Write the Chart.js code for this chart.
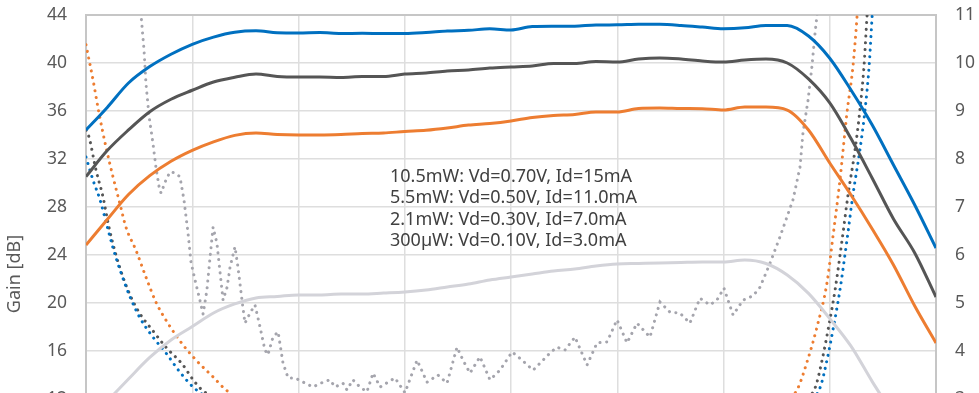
<!DOCTYPE html>
<html>
<head>
<meta charset="utf-8">
<title>LNA gain and noise figure vs. frequency</title>
<script src="https://cdn.jsdelivr.net/npm/chart.js@4.4.1/dist/chart.umd.min.js"></script>
<style>
  html, body { margin: 0; padding: 0; background: #ffffff; overflow: hidden; }
  canvas { display: block; }
</style>
</head>
<body>
<canvas id="lna" width="979" height="600"></canvas>
<script>
// ---- Gain sweeps (dB, left axis) on a 1 GHz grid ----
const freqGain = [60, 61, 62, 63, 64, 65, 66, 67, 68, 69, 70, 71, 72, 73, 74, 75, 76, 77, 78, 79, 80,
                  81, 82, 83, 84, 85, 86, 87, 88, 89, 90, 91, 92, 93, 94, 95, 96, 97, 98, 99, 100];

const gain10p5mW = [34.42, 36.3, 38.33, 39.7, 40.73, 41.56, 42.16, 42.56, 42.68, 42.52, 42.5,
                    42.54, 42.46, 42.47, 42.46, 42.46, 42.54, 42.67, 42.72, 42.85, 42.75,
                    43.04, 43.06, 43.07, 43.17, 43.18, 43.23, 43.22, 43.13, 43.0, 42.86,
                    42.93, 43.13, 43.13, 42.25, 40.4, 37.75, 34.83, 31.5, 28.17, 24.58];

const gain5p5mW = [30.53, 32.7, 34.42, 35.94, 36.98, 37.73, 38.42, 38.81, 39.08, 38.88, 38.83,
                   38.83, 38.8, 38.88, 38.88, 39.08, 39.17, 39.33, 39.42, 39.58, 39.67,
                   39.75, 39.96, 39.96, 40.13, 40.08, 40.33, 40.42, 40.33, 40.17, 40.08,
                   40.25, 40.33, 40.0, 38.67, 36.67, 33.7, 30.4, 27.0, 24.17, 20.5];

const gain2p1mW = [24.83, 26.96, 29.04, 30.61, 31.81, 32.72, 33.43, 33.97, 34.17, 34.04, 34.0,
                   34.0, 34.04, 34.13, 34.17, 34.29, 34.39, 34.58, 34.83, 34.96, 35.17,
                   35.46, 35.63, 35.71, 35.92, 35.92, 36.21, 36.25, 36.21, 36.19, 36.08,
                   36.33, 36.33, 36.08, 34.42, 31.67, 29.0, 26.17, 23.17, 19.75, 16.67];

const gain300uW = [10.0, 11.83, 13.67, 15.46, 16.92, 18.04, 19.17, 19.92, 20.42, 20.54, 20.67,
                   20.67, 20.75, 20.75, 20.83, 20.92, 21.08, 21.33, 21.58, 21.92, 22.17,
                   22.42, 22.67, 22.83, 23.08, 23.25, 23.29, 23.33, 23.38, 23.42, 23.42,
                   23.58, 23.29, 22.33, 20.8, 18.7, 16.4, 13.45, 10.67, 7.75, 4.83];

// ---- Noise figure sweeps (dB, right axis) ----
const nf10p5mWFreq = [60.0, 60.33, 60.66, 60.94, 61.27, 61.6, 62.07, 62.54, 63.15, 63.76, 64.42, 65.04,
                      66, 67, 68, 70, 75, 80, 85, 90, 92, 93, 94,
                      94.54, 94.87, 95.15, 95.48, 95.81, 96.09, 96.42, 96.66, 96.85, 96.99, 97.2];
const nf10p5mW = [8.04, 7.56, 7.15, 6.69, 6.15, 5.69, 5.13, 4.69, 4.29, 3.96, 3.56, 3.25,
                  2.95, 2.75, 2.6, 2.45, 2.35, 2.35, 2.4, 2.45, 2.55, 2.7, 2.95,
                  3.23, 3.81, 4.44, 5.27, 6.31, 7.25, 8.19, 9.02, 9.92, 10.94, 12.5];

const nf5p5mWFreq = [60.0, 60.14, 60.47, 60.8, 61.08, 61.41, 61.74, 62.07, 62.49, 63.15, 63.76, 64.56,
                     65.04, 65.51, 66.5, 68, 70, 75, 80, 85, 90, 92, 93, 93.8,
                     94.31, 94.64, 94.92, 95.25, 95.58, 95.86, 96.19, 96.42, 96.61, 96.75, 97.0];
const nf5p5mW = [8.6, 8.46, 7.77, 7.21, 6.58, 6.0, 5.54, 5.17, 4.81, 4.42, 4.08, 3.71,
                 3.4, 3.17, 2.95, 2.75, 2.6, 2.5, 2.5, 2.55, 2.6, 2.7, 2.85, 3.0,
                 3.23, 3.81, 4.44, 5.27, 6.31, 7.25, 8.19, 9.02, 9.92, 10.94, 12.5];

const nf2p1mWFreq = [60.0, 60.33, 60.61, 60.94, 61.27, 61.6, 61.88, 62.35, 62.82, 63.29, 63.91, 64.56,
                     65.18, 65.98, 66.64, 68, 70, 75, 80, 85, 90, 92, 93,
                     93.46, 93.93, 94.4, 94.87, 95.15, 95.48, 95.81, 96.09, 96.28, 96.5];
const nf2p1mW = [10.38, 9.65, 8.96, 8.25, 7.63, 7.06, 6.58, 6.1, 5.54, 5.02, 4.54, 4.13,
                 3.81, 3.46, 3.17, 2.9, 2.75, 2.65, 2.65, 2.7, 2.75, 2.85, 3.0,
                 3.19, 3.77, 4.5, 5.42, 6.38, 7.56, 8.96, 9.92, 10.94, 12.5];

const nf300uWFreq = [61.5, 62.2, 62.59, 62.73, 62.82, 62.97, 63.15, 63.29, 63.44, 63.53,
                     63.76, 63.95, 64.19, 64.42, 64.61, 64.8, 64.94, 65.13, 65.36, 65.51,
                     65.69, 65.84, 65.98, 66.16, 66.31, 66.45, 66.64, 66.78, 67.01, 67.15,
                     67.34, 67.48, 67.72, 67.95, 68.19, 68.42, 68.56, 68.8, 69.04, 69.27,
                     69.51, 69.84, 70.31, 70.68, 71.15, 71.48, 71.72, 72.09, 72.28, 72.56,
                     72.89, 73.22, 73.51, 73.84, 74.54, 75.01, 75.58, 76.05, 76.56, 76.99,
                     77.46, 77.74, 78.07, 78.54, 79.01, 79.48, 80.05, 80.52, 81.04, 81.84,
                     82.16, 82.54, 83.01, 83.58, 84.05, 84.52, 84.99, 85.46, 85.93, 86.54,
                     87.01, 87.48, 87.95, 88.42, 88.89, 89.36, 89.69, 90.02, 90.45, 90.92,
                     91.39, 91.72, 92.19, 92.66, 93.27, 93.6, 93.74, 93.98, 94.16, 94.31,
                     94.4, 94.6, 95.0];
const nf300uW = [14.5, 12.5, 11.0, 10.27, 9.58, 8.88, 8.33, 7.83, 7.42, 7.29,
                 7.56, 7.73, 7.71, 7.63, 7.15, 6.46, 5.85, 5.48, 5.06, 4.77,
                 5.27, 5.96, 6.58, 6.25, 5.63, 5.06, 5.33, 5.75, 6.17, 5.75,
                 5.06, 4.58, 4.79, 4.96, 4.5, 4.02, 3.92, 4.29, 4.4, 3.75,
                 3.44, 3.44, 3.33, 3.25, 3.35, 3.4, 3.25, 3.33, 3.19, 3.4,
                 3.25, 3.15, 3.54, 3.25, 3.44, 3.13, 3.81, 3.35, 3.5, 3.33,
                 4.08, 3.81, 3.54, 3.88, 3.4, 3.6, 3.98, 3.81, 3.6, 3.96,
                 4.08, 4.02, 4.29, 3.71, 4.17, 4.19, 4.65, 4.17, 4.58, 4.29,
                 5.02, 4.81, 4.79, 4.58, 5.1, 4.96, 5.06, 5.31, 4.75, 5.06,
                 5.15, 5.33, 5.83, 6.38, 7.15, 7.83, 8.54, 9.23, 9.92, 10.63,
                 11.0, 12.0, 14.0];

// Bias conditions listed inside the plot
const biasNotes = [
  '10.5mW: Vd=0.70V, Id=15mA',
  '5.5mW: Vd=0.50V, Id=11.0mA',
  '2.1mW: Vd=0.30V, Id=7.0mA',
  '300\u00b5W: Vd=0.10V, Id=3.0mA'
];
const gainTitle = 'Gain [dB]';

// Axis ranges
const gainAxis = { min: 0, max: 44, step: 4 };
const nfAxis = { min: 0, max: 11, step: 1 };
const freqAxis = { min: 60, max: 100, step: 5 };

// Plot-area frame on the canvas
const FRAME = { left: 86, top: 15, right: 936, bottom: 543 };
const CANVAS_H = 600;

const toPoints = (xs, ys) => xs.map((x, i) => ({ x: x, y: ys[i] }));

const COLORS = {
  blue: '#0070C0',
  dark: '#555555',
  orange: '#ED7D31',
  light: '#D3D3D9',
  grayDot: '#A5A5AD'
};

function gainSet(label, ys, color) {
  return {
    label, data: toPoints(freqGain, ys), yAxisID: 'y',
    borderColor: color, backgroundColor: color, borderWidth: 3,
    pointRadius: 0, cubicInterpolationMode: 'monotone', clip: 0
  };
}
function nfSet(label, xs, ys, color, smooth) {
  return {
    label, data: toPoints(xs, ys), yAxisID: 'y1',
    borderColor: color, backgroundColor: color, borderWidth: 3,
    borderDash: [0.1, 6.6], borderCapStyle: 'round',
    pointRadius: 0, tension: 0,
    cubicInterpolationMode: smooth ? 'monotone' : 'default', clip: 0
  };
}

// Bias notes inside the plot and the rotated gain-axis title
const textPlugin = {
  id: 'chartText',
  afterDatasetsDraw(chart) {
    const { ctx, chartArea } = chart;
    ctx.save();
    ctx.font = '18px "Noto Sans", sans-serif';
    ctx.fillStyle = '#404040';
    ctx.textAlign = 'left';
    ctx.textBaseline = 'alphabetic';
    biasNotes.forEach((t, i) => ctx.fillText(t, chartArea.left + 304, chartArea.top + 167 + i * 21.3));
    ctx.restore();
  },
  afterDraw(chart) {
    const { ctx, chartArea } = chart;
    ctx.save();
    ctx.font = '18px "Noto Sans", sans-serif';
    ctx.fillStyle = '#595959';
    ctx.textAlign = 'center';
    ctx.textBaseline = 'middle';
    ctx.translate(14.5, chartArea.top + 259);
    ctx.rotate(-Math.PI / 2);
    ctx.fillText(gainTitle, 0, 0);
    ctx.restore();
  }
};

Chart.defaults.font.family = '"Noto Sans", sans-serif';
Chart.defaults.color = '#595959';

const tickFont = { size: 17.5 };
const isTop = (c) => c.tick && c.tick.value === gainAxis.max;

// Vertical axes: fixed width, and no extra label overflow above/below the plot
function fixVertical(width) {
  return (s) => { s.width = width; s.paddingTop = 0; s.paddingBottom = 0; };
}

new Chart(document.getElementById('lna'), {
  type: 'line',
  data: {
    datasets: [
      gainSet('Gain 10.5mW', gain10p5mW, COLORS.blue),
      gainSet('Gain 5.5mW', gain5p5mW, COLORS.dark),
      gainSet('Gain 2.1mW', gain2p1mW, COLORS.orange),
      gainSet('Gain 300\u00b5W', gain300uW, COLORS.light),
      nfSet('NF 10.5mW', nf10p5mWFreq, nf10p5mW, COLORS.blue, true),
      nfSet('NF 5.5mW', nf5p5mWFreq, nf5p5mW, COLORS.dark, true),
      nfSet('NF 2.1mW', nf2p1mWFreq, nf2p1mW, COLORS.orange, true),
      nfSet('NF 300\u00b5W', nf300uWFreq, nf300uW, COLORS.grayDot, false)
    ]
  },
  options: {
    responsive: false,
    animation: false,
    layout: { padding: { top: FRAME.top, left: 0, right: 0, bottom: 0 } },
    plugins: { legend: { display: false }, tooltip: { enabled: false } },
    scales: {
      x: {
        type: 'linear', min: freqAxis.min, max: freqAxis.max,
        ticks: { stepSize: freqAxis.step, font: tickFont, padding: 8 },
        grid: { color: '#DEDEDE', lineWidth: 1.5, drawTicks: false },
        border: { display: true, color: '#C6C6C6', width: 2 },
        afterFit: (s) => { s.height = CANVAS_H - FRAME.bottom; s.paddingLeft = 0; s.paddingRight = 0; }
      },
      y: {
        position: 'left', min: gainAxis.min, max: gainAxis.max,
        ticks: { stepSize: gainAxis.step, font: tickFont, padding: 19 },
        grid: {
          color: (c) => isTop(c) ? '#C6C6C6' : '#DEDEDE',
          lineWidth: (c) => isTop(c) ? 2 : 1.5,
          drawTicks: false
        },
        border: { display: true, color: '#C6C6C6', width: 2 },
        afterFit: fixVertical(FRAME.left)
      },
      y1: {
        position: 'right', min: nfAxis.min, max: nfAxis.max,
        ticks: { stepSize: nfAxis.step, font: tickFont, padding: 19 },
        grid: { drawOnChartArea: false, drawTicks: false },
        border: { display: true, color: '#C6C6C6', width: 2 },
        afterFit: fixVertical(979 - FRAME.right)
      }
    }
  },
  plugins: [textPlugin]
});
</script>
</body>
</html>
